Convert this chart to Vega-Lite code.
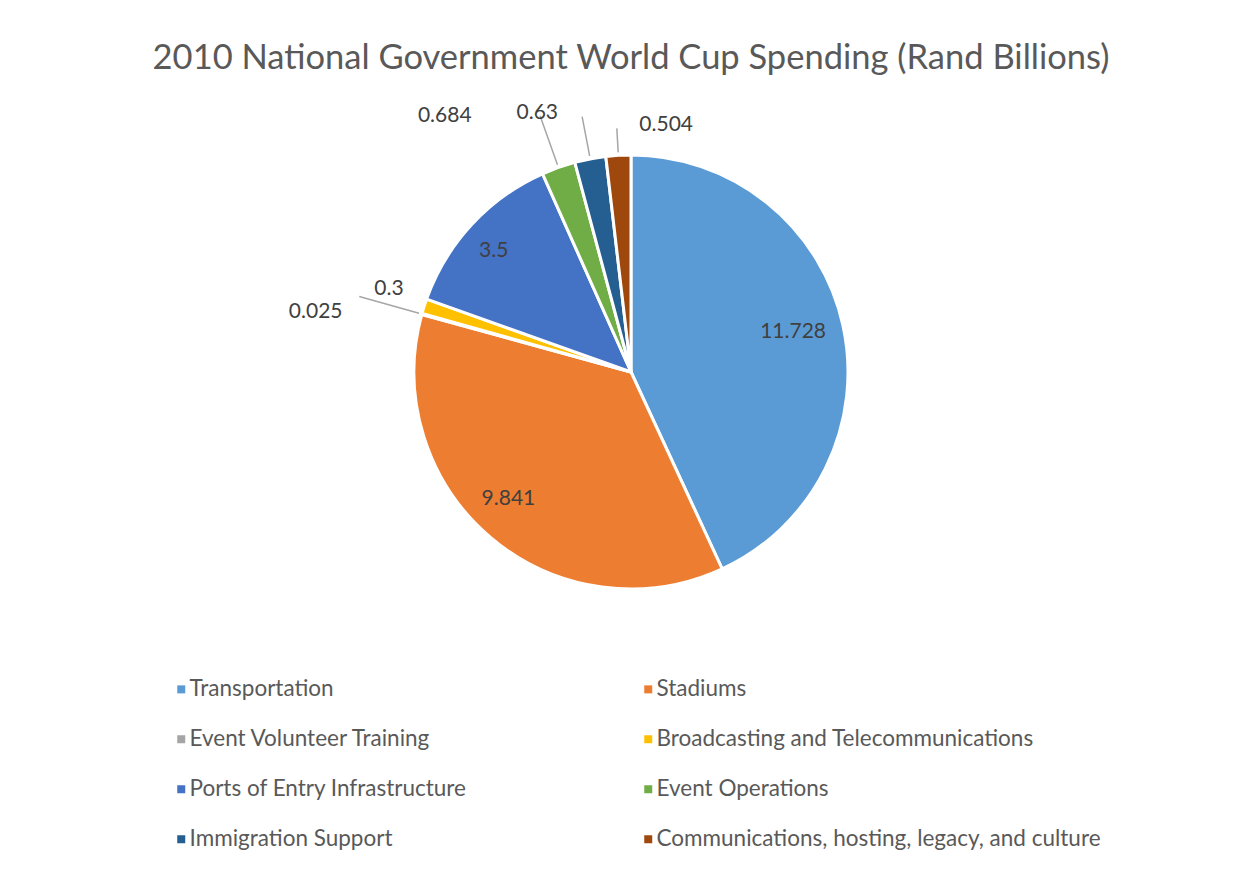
{
  "$schema": "https://vega.github.io/schema/vega-lite/v6.json",
  "width": 1242,
  "height": 544,
  "autosize": "none",
  "padding": {"left": 10, "top": 100, "right": 0, "bottom": 230},
  "background": "white",
  "title": {
    "text": "2010 National Government World Cup Spending (Rand Billions)",
    "font": "Lato",
    "fontSize": 34.5,
    "fontWeight": "normal",
    "color": "#595959",
    "anchor": "middle",
    "offset": -9
  },
  "config": {"view": {"stroke": null}},
  "data": {
    "values": [
      {"cat": "Transportation", "value": 11.728, "idx": 1},
      {"cat": "Stadiums", "value": 9.841, "idx": 2},
      {"cat": "Event Volunteer Training", "value": 0.025, "idx": 3},
      {"cat": "Broadcasting and Telecommunications", "value": 0.3, "idx": 4},
      {"cat": "Ports of Entry Infrastructure", "value": 3.5, "idx": 5},
      {"cat": "Event Operations", "value": 0.684, "idx": 6},
      {"cat": "Immigration Support", "value": 0.63, "idx": 7},
      {"cat": "Communications, hosting, legacy, and culture", "value": 0.504, "idx": 8}
    ]
  },
  "layer": [
    {
      "mark": {"type": "arc", "outerRadius": 217, "stroke": "white", "strokeWidth": 3},
      "encoding": {
        "theta": {"field": "value", "type": "quantitative", "stack": true},
        "order": {"field": "idx", "type": "quantitative"},
        "color": {
          "field": "cat",
          "type": "nominal",
          "scale": {
            "domain": ["Transportation", "Event Volunteer Training", "Ports of Entry Infrastructure", "Immigration Support", "Stadiums", "Broadcasting and Telecommunications", "Event Operations", "Communications, hosting, legacy, and culture"],
            "range": ["#5B9BD5", "#A5A5A5", "#4472C4", "#255E91", "#ED7D31", "#FFC000", "#70AD47", "#9E480E"]
          },
          "legend": {
            "title": null,
            "orient": "none",
            "legendX": 160,
            "legendY": 578,
            "columns": 2,
            "symbolType": "square",
            "symbolSize": 64,
            "symbolStrokeWidth": 0,
            "labelFont": "Lato",
            "labelFontSize": 22.5,
            "labelColor": "#595959",
            "labelLimit": 800,
            "labelOffset": -3,
            "rowPadding": 27,
            "columnPadding": 170
          }
        }
      }
    },
    {
      "mark": {"type": "arc", "innerRadius": 220, "outerRadius": 282, "padAngle": 1, "fillOpacity": 0, "stroke": "#A6A6A6", "strokeWidth": 1.5},
      "encoding": {
        "theta": {"field": "value", "type": "quantitative", "stack": true},
        "order": {"field": "idx", "type": "quantitative"},
        "detail": {"field": "cat", "type": "nominal"},
        "strokeOpacity": {"condition": {"test": "datum.cat === 'Event Volunteer Training'", "value": 1}, "value": 0}
      }
    },
    {
      "mark": {"type": "arc", "innerRadius": 220, "outerRadius": 272, "padAngle": 1, "fillOpacity": 0, "stroke": "#A6A6A6", "strokeWidth": 1.5},
      "encoding": {
        "theta": {"field": "value", "type": "quantitative", "stack": true},
        "order": {"field": "idx", "type": "quantitative"},
        "detail": {"field": "cat", "type": "nominal"},
        "strokeOpacity": {"condition": {"test": "datum.cat === 'Event Operations'", "value": 1}, "value": 0}
      }
    },
    {
      "mark": {"type": "arc", "innerRadius": 220, "outerRadius": 260, "padAngle": 1, "fillOpacity": 0, "stroke": "#A6A6A6", "strokeWidth": 1.5},
      "encoding": {
        "theta": {"field": "value", "type": "quantitative", "stack": true},
        "order": {"field": "idx", "type": "quantitative"},
        "detail": {"field": "cat", "type": "nominal"},
        "strokeOpacity": {"condition": {"test": "datum.cat === 'Immigration Support'", "value": 1}, "value": 0}
      }
    },
    {
      "mark": {"type": "arc", "innerRadius": 220, "outerRadius": 244, "padAngle": 1, "fillOpacity": 0, "stroke": "#A6A6A6", "strokeWidth": 1.5},
      "encoding": {
        "theta": {"field": "value", "type": "quantitative", "stack": true},
        "order": {"field": "idx", "type": "quantitative"},
        "detail": {"field": "cat", "type": "nominal"},
        "strokeOpacity": {"condition": {"test": "datum.cat === 'Communications, hosting, legacy, and culture'", "value": 1}, "value": 0}
      }
    },
    {
      "mark": {"type": "text", "radius": 168, "dx": -2, "dy": -4, "font": "Lato", "fontSize": 21, "color": "#404040", "align": "center", "baseline": "middle"},
      "encoding": {
        "theta": {"field": "value", "type": "quantitative", "stack": true},
        "order": {"field": "idx", "type": "quantitative"},
        "detail": {"field": "cat", "type": "nominal"},
        "text": {"condition": {"test": "datum.cat === 'Transportation'", "field": "value", "type": "nominal"}, "value": ""}
      }
    },
    {
      "mark": {"type": "text", "radius": 168, "dx": -14, "dy": -1, "font": "Lato", "fontSize": 21, "color": "#404040", "align": "center", "baseline": "middle"},
      "encoding": {
        "theta": {"field": "value", "type": "quantitative", "stack": true},
        "order": {"field": "idx", "type": "quantitative"},
        "detail": {"field": "cat", "type": "nominal"},
        "text": {"condition": {"test": "datum.cat === 'Stadiums'", "field": "value", "type": "nominal"}, "value": ""}
      }
    },
    {
      "mark": {"type": "text", "radius": 168, "dx": -14, "dy": -7, "font": "Lato", "fontSize": 21, "color": "#404040", "align": "center", "baseline": "middle"},
      "encoding": {
        "theta": {"field": "value", "type": "quantitative", "stack": true},
        "order": {"field": "idx", "type": "quantitative"},
        "detail": {"field": "cat", "type": "nominal"},
        "text": {"condition": {"test": "datum.cat === 'Ports of Entry Infrastructure'", "field": "value", "type": "nominal"}, "value": ""}
      }
    },
    {
      "mark": {"type": "text", "radius": 320, "dx": -7, "dy": 26, "font": "Lato", "fontSize": 21, "color": "#404040", "align": "center", "baseline": "middle"},
      "encoding": {
        "theta": {"field": "value", "type": "quantitative", "stack": true},
        "order": {"field": "idx", "type": "quantitative"},
        "detail": {"field": "cat", "type": "nominal"},
        "text": {"condition": {"test": "datum.cat === 'Event Volunteer Training'", "field": "value", "type": "nominal"}, "value": ""}
      }
    },
    {
      "mark": {"type": "text", "radius": 255, "dx": 1, "dy": -6, "font": "Lato", "fontSize": 21, "color": "#404040", "align": "center", "baseline": "middle"},
      "encoding": {
        "theta": {"field": "value", "type": "quantitative", "stack": true},
        "order": {"field": "idx", "type": "quantitative"},
        "detail": {"field": "cat", "type": "nominal"},
        "text": {"condition": {"test": "datum.cat === 'Broadcasting and Telecommunications'", "field": "value", "type": "nominal"}, "value": ""}
      }
    },
    {
      "mark": {"type": "text", "radius": 255, "dx": -101, "dy": -16, "font": "Lato", "fontSize": 21, "color": "#404040", "align": "center", "baseline": "middle"},
      "encoding": {
        "theta": {"field": "value", "type": "quantitative", "stack": true},
        "order": {"field": "idx", "type": "quantitative"},
        "detail": {"field": "cat", "type": "nominal"},
        "text": {"condition": {"test": "datum.cat === 'Event Operations'", "field": "value", "type": "nominal"}, "value": ""}
      }
    },
    {
      "mark": {"type": "text", "radius": 270, "dx": -43, "dy": 6, "font": "Lato", "fontSize": 21, "color": "#404040", "align": "center", "baseline": "middle"},
      "encoding": {
        "theta": {"field": "value", "type": "quantitative", "stack": true},
        "order": {"field": "idx", "type": "quantitative"},
        "detail": {"field": "cat", "type": "nominal"},
        "text": {"condition": {"test": "datum.cat === 'Immigration Support'", "field": "value", "type": "nominal"}, "value": ""}
      }
    },
    {
      "mark": {"type": "text", "radius": 255, "dx": 50, "dy": 8, "font": "Lato", "fontSize": 21, "color": "#404040", "align": "center", "baseline": "middle"},
      "encoding": {
        "theta": {"field": "value", "type": "quantitative", "stack": true},
        "order": {"field": "idx", "type": "quantitative"},
        "detail": {"field": "cat", "type": "nominal"},
        "text": {"condition": {"test": "datum.cat === 'Communications, hosting, legacy, and culture'", "field": "value", "type": "nominal"}, "value": ""}
      }
    }
  ]
}
